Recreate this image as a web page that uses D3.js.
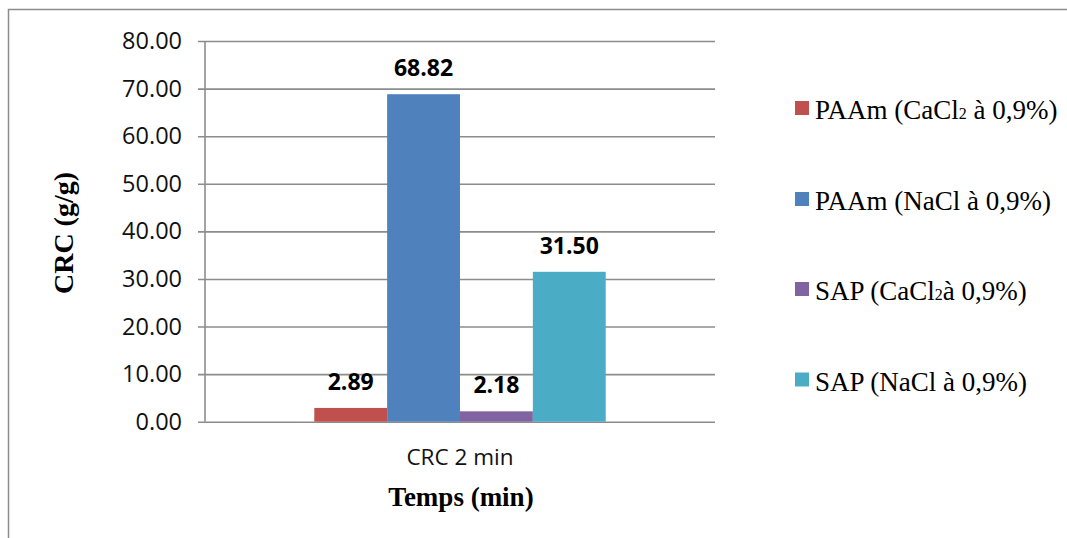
<!DOCTYPE html>
<html>
<head>
<meta charset="utf-8">
<script src="https://cdn.jsdelivr.net/npm/d3@7"></script>
<style>
  html, body { margin: 0; padding: 0; background: #fff; }
  svg { display: block; }
</style>
</head>
<body>
<svg id="chart" width="1067" height="538"></svg>
<script>
// Chart data
const categories = ["CRC 2 min"];
const seriesNames = ["PAAm (CaCl2 à 0,9%)", "PAAm (NaCl à 0,9%)", "SAP (CaCl2à 0,9%)", "SAP (NaCl à 0,9%)"];
const seriesValues = [2.89, 68.82, 2.18, 31.50];
const seriesColors = ["#C0504D", "#4F81BD", "#8064A2", "#4BACC6"];
const yTicks = [0, 10, 20, 30, 40, 50, 60, 70, 80];

// Legend label parts: [before subscript, subscript, after]
const legendParts = [
  ["PAAm (CaCl", "2", " à 0,9%)"],
  ["PAAm (NaCl à 0,9%)", "", ""],
  ["SAP (CaCl", "2", "à 0,9%)"],
  ["SAP (NaCl à 0,9%)", "", ""]
];

const svg = d3.select("#chart");
const W = 1067, H = 538;
const plot = { left: 205, right: 715, top: 41, bottom: 421.7 };
const gridColor = "#8c8c8c";
const sansFont = "'Open Sans', sans-serif";
const serifFont = "'Liberation Serif', 'Times New Roman', serif";

// Chart frame
svg.append("path")
  .attr("d", `M8.5,${H} L8.5,9.5 L${W},9.5`)
  .attr("fill", "none")
  .attr("stroke", gridColor)
  .attr("stroke-width", 1.5);

const y = d3.scaleLinear().domain([0, 80]).range([plot.bottom, plot.top]);
const x0 = d3.scaleBand().domain(categories).range([plot.left, plot.right])
  .paddingInner(0).paddingOuter(0.375);
const x1 = d3.scaleBand().domain(seriesNames).range([0, x0.bandwidth()]).padding(0);

// Gridlines and y axis
const yAxis = d3.axisLeft(y)
  .tickValues(yTicks)
  .tickSize(-(plot.right - plot.left))
  .tickFormat(d3.format(".2f"))
  .tickPadding(23);

const gy = svg.append("g")
  .attr("transform", `translate(${plot.left},0)`)
  .call(yAxis);
gy.select(".domain").remove();
gy.selectAll(".tick line")
  .attr("stroke", gridColor)
  .attr("stroke-width", 1.6)
  .attr("x1", -7);
gy.selectAll(".tick text")
  .attr("font-family", sansFont)
  .attr("font-size", 23.5)
  .attr("fill", "#111");

// Vertical axis line
svg.append("line")
  .attr("x1", plot.left).attr("x2", plot.left)
  .attr("y1", plot.top).attr("y2", plot.bottom)
  .attr("stroke", gridColor)
  .attr("stroke-width", 1.6);

// Bars
const group = svg.append("g")
  .selectAll("g")
  .data(categories)
  .join("g")
  .attr("transform", d => `translate(${x0(d)},0)`);

group.selectAll("rect")
  .data(() => seriesNames.map((s, i) => ({ s, v: seriesValues[i], c: seriesColors[i] })))
  .join("rect")
  .attr("x", d => x1(d.s))
  .attr("width", x1.bandwidth())
  .attr("y", d => y(d.v))
  .attr("height", d => y(0) - y(d.v))
  .attr("fill", d => d.c);

// Value labels
group.selectAll("text.value")
  .data(() => seriesNames.map((s, i) => ({ s, v: seriesValues[i] })))
  .join("text")
  .attr("class", "value")
  .attr("x", d => x1(d.s) + x1.bandwidth() / 2)
  .attr("y", d => y(d.v) - 18)
  .attr("text-anchor", "middle")
  .attr("font-family", sansFont)
  .attr("font-weight", "bold")
  .attr("font-size", 23)
  .attr("fill", "#000")
  .text(d => d3.format(".2f")(d.v));

// Category labels
svg.append("g")
  .selectAll("text")
  .data(categories)
  .join("text")
  .attr("x", d => x0(d) + x0.bandwidth() / 2)
  .attr("y", 465)
  .attr("text-anchor", "middle")
  .attr("font-family", sansFont)
  .attr("font-size", 22.5)
  .attr("fill", "#111")
  .text(d => d);

// Axis titles
svg.append("text")
  .attr("x", (plot.left + plot.right) / 2 + 1)
  .attr("y", 506)
  .attr("text-anchor", "middle")
  .attr("font-family", serifFont)
  .attr("font-weight", "bold")
  .attr("font-size", 27)
  .attr("fill", "#000")
  .text("Temps (min)");

svg.append("text")
  .attr("transform", "translate(73,233) rotate(-90)")
  .attr("text-anchor", "middle")
  .attr("font-family", serifFont)
  .attr("font-weight", "bold")
  .attr("font-size", 28)
  .attr("fill", "#000")
  .text("CRC (g/g)");

// Legend
const legendCenters = [108, 199, 289, 379.5];
const legend = svg.append("g")
  .selectAll("g")
  .data(seriesNames)
  .join("g")
  .attr("transform", (d, i) => `translate(795,${legendCenters[i]})`);

legend.append("rect")
  .attr("x", 0).attr("y", -7)
  .attr("width", 14).attr("height", 14)
  .attr("fill", (d, i) => seriesColors[i]);

const lt = legend.append("text")
  .attr("x", 20)
  .attr("y", 11)
  .attr("font-family", serifFont)
  .attr("font-size", 27)
  .attr("fill", "#000");
lt.append("tspan").text((d, i) => legendParts[i][0]);
lt.append("tspan").attr("font-size", 16).text((d, i) => legendParts[i][1]);
lt.append("tspan").text((d, i) => legendParts[i][2]);
</script>
</body>
</html>
